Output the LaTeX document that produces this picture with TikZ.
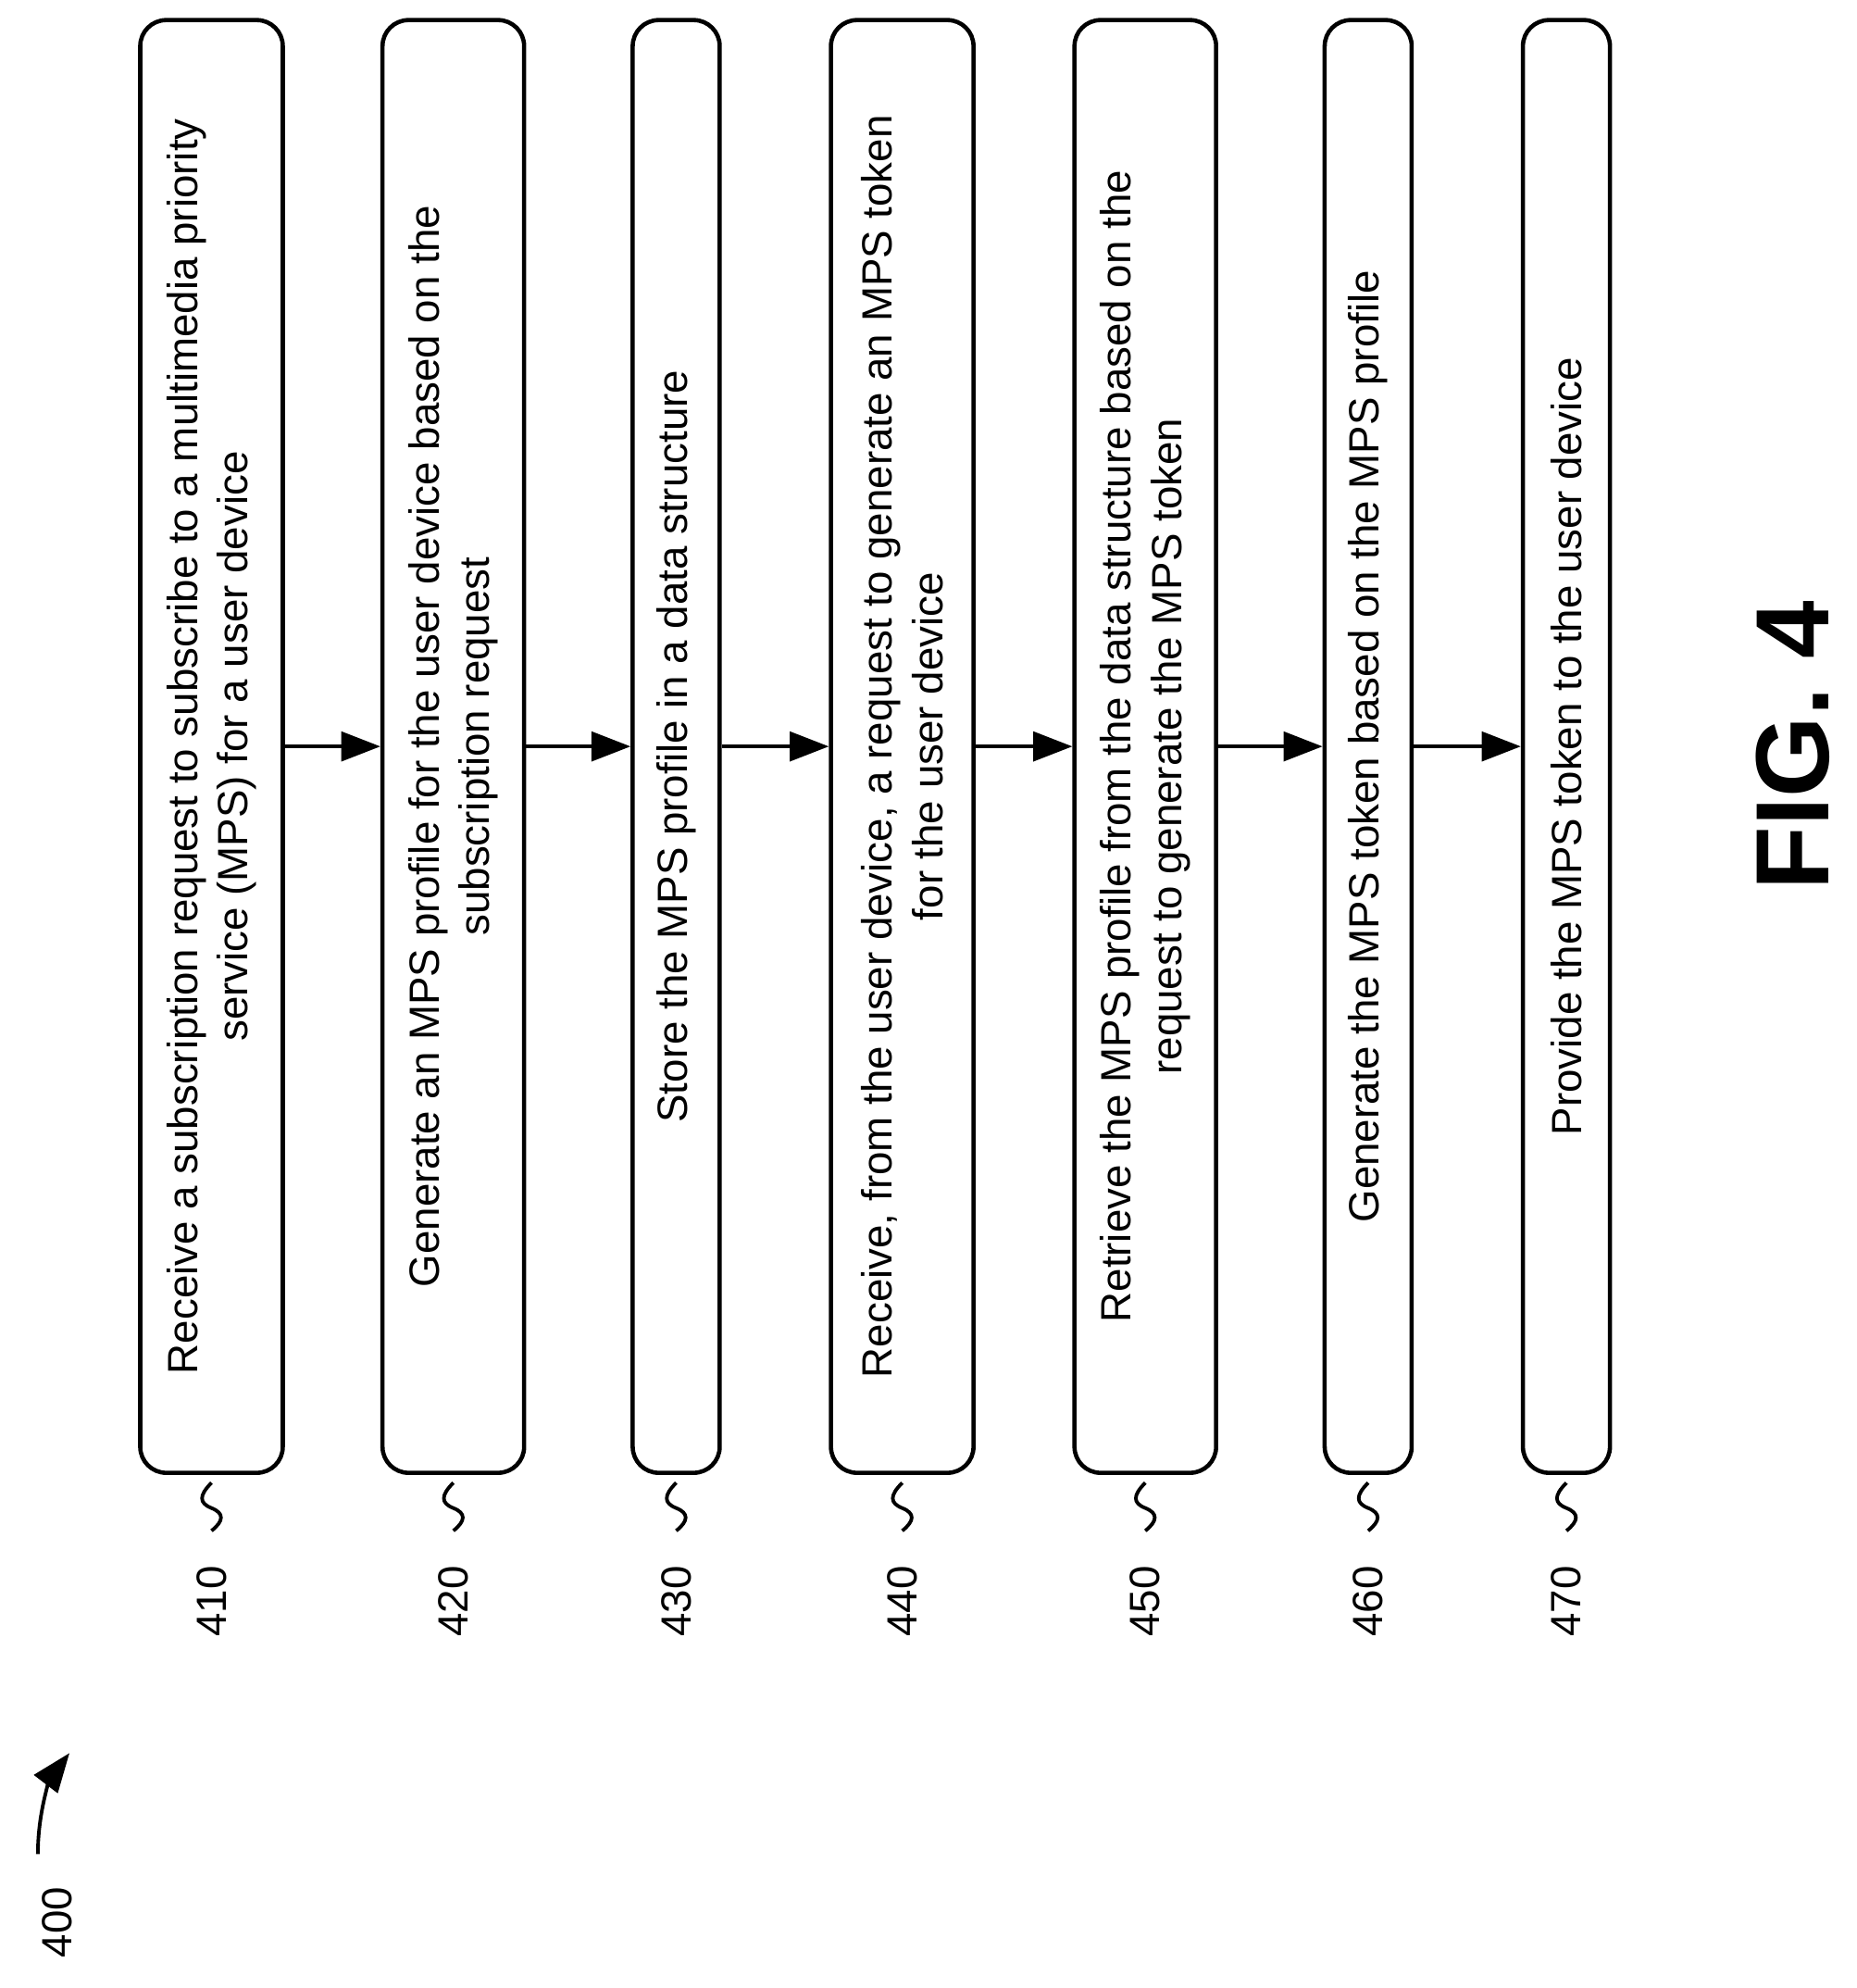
\documentclass[tikz,border=0pt]{standalone}
\usepackage{fontspec}
\setmainfont{Liberation Sans}
\usetikzlibrary{arrows.meta}
\begin{document}
\begin{tikzpicture}[x=0.01364cm,y=-0.01364cm,
 box/.style={draw,line width=1.3pt,rounded corners=8pt,rotate=90,minimum width=15.69cm,align=center,font=\fontsize{13}{15.5}\selectfont,inner sep=0pt},
 arr/.style={-{Triangle[length=12pt,width=9pt]},line width=1.1pt},
 sq/.style={line width=1.1pt},
 lab/.style={rotate=90,font=\fontsize{13}{15}\selectfont}]
\useasboundingbox (0,0) rectangle (1470,1574);
\node[box,minimum height=1.54cm] (b1) at (167.5,591) {Receive a subscription request to subscribe to a multimedia priority\\service (MPS) for a user device};
\node[box,minimum height=1.53cm] (b2) at (359,591) {Generate an MPS profile for the user device based on the\\subscription request};
\node[box,minimum height=0.94cm] (b3) at (535.5,591) {Store the MPS profile in a data structure};
\node[box,minimum height=1.54cm] (b4) at (714.5,591) {Receive,  from the user device, a request to generate an MPS token\\for the user device};
\node[box,minimum height=1.53cm] (b5) at (907,591) {Retrieve the MPS profile from the data structure based on the\\request to generate the MPS token};
\node[box,minimum height=0.94cm] (b6) at (1083.5,591) {Generate the MPS token based on the MPS profile};
\node[box,minimum height=0.94cm] (b7) at (1240.5,591) {Provide the MPS token to the user device};
\draw[arr] (b1.south) -- (b2.north);
\draw[arr] (b2.south) -- (b3.north);
\draw[arr] (b3.south) -- (b4.north);
\draw[arr] (b4.south) -- (b5.north);
\draw[arr] (b5.south) -- (b6.north);
\draw[arr] (b6.south) -- (b7.north);
\foreach \x/\n [count=\i] in {167.5/410,359/420,535.5/430,714.5/440,907/450,1083.5/460,1240.5/470}{
 \draw[sq] (\x,1174) .. controls (\x-10,1184) and (\x-10,1190) .. (\x,1194) .. controls (\x+10,1198) and (\x+10,1204) .. (\x,1212);
 \node[lab] (l\i) at (\x,1268) {\n};
}
\node[lab] (l400) at (45,1522) {400};
\coordinate (a0) at (30,1468);
\coordinate (a1) at (55,1388);
\draw[arr] (a0) .. controls (30,1430) and (42,1405) .. (a1);
\node[rotate=90,font=\bfseries\fontsize{32}{36}\selectfont] (fig) at (1420,590) {FIG. 4};
\end{tikzpicture}
\end{document}
